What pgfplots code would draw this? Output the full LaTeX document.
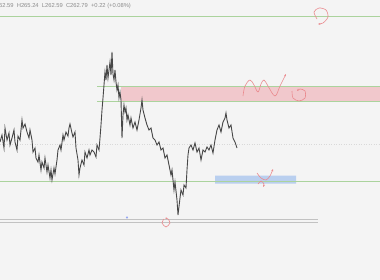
\documentclass[border=0pt]{standalone}
\usepackage{pgfplots}
\pgfplotsset{compat=1.18}
\usepackage{fontspec}
\setmainfont{Liberation Sans}
\usetikzlibrary{arrows.meta}
\definecolor{bg}{HTML}{F4F4F4}
\definecolor{gline}{HTML}{ABD39D}
\definecolor{rzone}{HTML}{F1C8CC}
\definecolor{bzone}{HTML}{B9CFEF}
\definecolor{price}{HTML}{474747}
\definecolor{ann}{HTML}{EA8A8E}
\definecolor{dline}{HTML}{C2C2C2}
\begin{document}
\begin{tikzpicture}
\begin{axis}[
  scale only axis, width=380bp, height=280bp,
  xmin=0, xmax=380, ymin=0, ymax=280, y dir=reverse,
  hide axis,
  axis background/.style={fill=bg},
  clip=true,
]
% zones
\addplot[fill=rzone, draw=none] coordinates {(121,86.5) (380,86.5) (380,101) (121,101) (121,86.5)};
\addplot[fill=bzone, draw=none] coordinates {(215,175.5) (296,175.5) (296,183.5) (215,183.5) (215,175.5)};
% horizontal lines
\addplot[gline, line width=0.9pt] coordinates {(0,16) (380,16)};
\addplot[gline, line width=0.8pt] coordinates {(97,86.5) (380,86.5)};
\addplot[gline, line width=0.8pt] coordinates {(97,101) (380,101)};
\addplot[gline, line width=0.9pt] coordinates {(0,181) (380,181)};
\addplot[black!15, dotted, line width=0.5pt] coordinates {(0,144) (380,144)};
\addplot[dline, line width=1pt] coordinates {(0,219.3) (318,219.3)};
\addplot[dline, line width=1pt] coordinates {(0,222.3) (318,222.3)};
% price
\addplot[price, line width=0.9pt] coordinates {
(0,142) (2,135) (4,148) (5,128) (7,140) (9,133) (10,145) (12,138) (14,130) (15,142)
(17,150) (18,136) (20,140) (22,120) (23,128) (25,124) (27,132) (29,138) (30,130) (32,140)
(33,152) (35,148) (36,158) (38,162) (39,155) (41,170) (42,162) (44,168) (45,158) (47,172)
(48,165) (50,178) (51,170) (52,180) (54,168) (55,174) (57,160) (58,150) (60,145) (61,150)
(63,135) (64,140) (66,132) (68,136) (69,128) (70,124) (72,133) (73,137) (75,132) (76,148)
(78,160) (79,175) (80,168) (82,160) (84,165) (85,152) (87,158) (89,150) (90,155) (92,150)
(94,152) (96,157) (97,145) (99,150) (100,138) (101,125) (102,110) (103,98) (104,85) (105,72)
(106,80) (107,65) (108,78) (109,70) (110,62) (111,75) (112,52) (113,74) (114,80) (115,70)
(116,82) (117,90) (118,85) (119,98) (120,92) (121,100) (122,138) (123,115) (124,105) (125,112)
(126,108) (127,120) (128,115) (130,125) (131,118) (133,128) (135,122) (137,130) (139,120) (141,108)
(142,100) (143,110) (145,118) (147,125) (149,130) (151,128) (153,138) (155,140) (157,145) (159,142)
(161,150) (163,148) (165,158) (167,155) (169,165) (171,175) (172,170) (174,190) (175,182) (177,200)
(178,215) (180,198) (181,190) (183,195) (184,185) (186,188) (187,170) (188,155) (189,148) (191,145)
(193,150) (195,143) (197,152) (199,148) (201,160) (203,150) (205,152) (207,147) (209,150) (211,145)
(213,153) (215,140) (217,130) (219,125) (221,132) (223,122) (225,118) (226,113) (227,120) (229,128)
(231,125) (233,138) (235,142) (237,148)
};
% annotations
\addplot[ann, line width=0.6pt, smooth, -{Stealth[length=2.5pt]}] coordinates {(317,19) (314,12) (319,8) (326,10) (328,17) (323,23) (318,24)};
\addplot[ann, line width=0.6pt, smooth, tension=0.6, -{Stealth[length=2.5pt]}] coordinates {(243,96) (245,86) (250,80) (254,85) (258,92) (261,84) (264,80) (268,86) (275,96) (280,86) (286,74)};
\addplot[ann, line width=0.6pt, smooth, -{Stealth[length=2.5pt]}] coordinates {(292,91) (293,98) (299,101) (305,98) (305,91) (300,89) (297,91)};
\addplot[ann, line width=0.6pt, smooth, -{Stealth[length=2.5pt]}] coordinates {(257,173) (261,178) (266,180) (270,176) (273,169)};
\addplot[ann, line width=0.6pt, smooth, -{Stealth[length=2.5pt]}] coordinates {(258,184) (261,181) (264,184) (263,187)};
\addplot[ann, line width=0.6pt, smooth, -{Stealth[length=2pt]}] coordinates {(164,219) (162,223) (166,227) (170,223) (168,219) (165,218)};
\addplot[only marks, mark=*, mark size=0.9pt, color=bzone!80!blue] coordinates {(127,217.5)};
\node[anchor=west, inner sep=0pt, text=black!45, font=\fontsize{5.8}{7}\selectfont] at (axis cs:-1,6) {62.59 \ H265.24 \ L262.59 \ C262.79 \ +0.22 (+0.08\%)};
\end{axis}
\end{tikzpicture}
\end{document}
